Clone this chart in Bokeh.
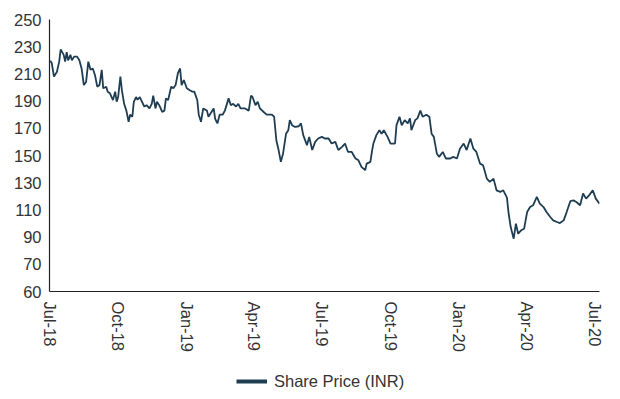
import pandas as pd
from bokeh.plotting import figure
from bokeh.layouts import column
from bokeh.models import (Range1d, FixedTicker, DatetimeTickFormatter, Legend,
                          LegendItem, ColumnDataSource)
from bokeh.embed import file_html
from bokeh.resources import INLINE

# ---------------- data ----------------
dates = [
    "2018-07-02", "2018-07-04", "2018-07-07", "2018-07-11", "2018-07-14", "2018-07-16",
    "2018-07-20", "2018-07-22", "2018-07-24", "2018-07-26", "2018-07-29", "2018-07-31",
    "2018-08-03", "2018-08-07", "2018-08-10", "2018-08-13", "2018-08-16", "2018-08-19",
    "2018-08-22", "2018-08-25", "2018-08-28", "2018-08-31", "2018-09-03", "2018-09-06",
    "2018-09-09", "2018-09-11", "2018-09-15", "2018-09-17", "2018-09-20", "2018-09-24",
    "2018-09-27", "2018-09-29", "2018-10-01", "2018-10-04", "2018-10-06", "2018-10-09",
    "2018-10-12", "2018-10-15", "2018-10-17", "2018-10-20", "2018-10-22", "2018-10-25",
    "2018-10-27", "2018-10-30", "2018-11-02", "2018-11-05", "2018-11-08", "2018-11-12",
    "2018-11-15", "2018-11-17", "2018-11-20", "2018-11-22", "2018-11-25", "2018-11-29",
    "2018-12-02", "2018-12-04", "2018-12-07", "2018-12-11", "2018-12-14", "2018-12-17",
    "2018-12-20", "2018-12-23", "2018-12-25", "2018-12-28", "2019-01-01", "2019-01-05",
    "2019-01-08", "2019-01-11", "2019-01-15", "2019-01-17", "2019-01-20", "2019-01-23",
    "2019-01-28", "2019-01-30", "2019-02-02", "2019-02-06", "2019-02-08", "2019-02-11",
    "2019-02-14", "2019-02-18", "2019-02-21", "2019-02-26", "2019-03-01", "2019-03-04",
    "2019-03-08", "2019-03-11", "2019-03-14", "2019-03-20", "2019-03-25", "2019-03-28",
    "2019-03-30", "2019-04-03", "2019-04-06", "2019-04-09", "2019-04-14", "2019-04-18",
    "2019-04-25", "2019-04-28", "2019-05-01", "2019-05-04", "2019-05-07", "2019-05-10",
    "2019-05-14", "2019-05-17", "2019-05-19", "2019-05-22", "2019-05-26", "2019-05-31",
    "2019-06-03", "2019-06-06", "2019-06-11", "2019-06-14", "2019-06-18", "2019-06-22",
    "2019-06-26", "2019-07-01", "2019-07-05", "2019-07-10", "2019-07-14", "2019-07-19",
    "2019-07-23", "2019-07-28", "2019-08-01", "2019-08-05", "2019-08-10", "2019-08-15",
    "2019-08-19", "2019-08-23", "2019-08-28", "2019-08-30", "2019-09-04", "2019-09-06",
    "2019-09-08", "2019-09-12", "2019-09-16", "2019-09-19", "2019-09-22", "2019-09-27",
    "2019-10-01", "2019-10-07", "2019-10-09", "2019-10-13", "2019-10-16", "2019-10-20",
    "2019-10-24", "2019-10-27", "2019-10-29", "2019-11-03", "2019-11-06", "2019-11-10",
    "2019-11-13", "2019-11-18", "2019-11-22", "2019-11-25", "2019-11-28", "2019-12-02",
    "2019-12-05", "2019-12-10", "2019-12-14", "2019-12-20", "2019-12-24", "2019-12-29",
    "2020-01-02", "2020-01-07", "2020-01-11", "2020-01-16", "2020-01-20", "2020-01-24",
    "2020-01-29", "2020-02-02", "2020-02-07", "2020-02-11", "2020-02-16", "2020-02-20",
    "2020-02-25", "2020-02-29", "2020-03-05", "2020-03-07", "2020-03-10", "2020-03-14",
    "2020-03-17", "2020-03-20", "2020-03-24", "2020-03-28", "2020-04-01", "2020-04-05",
    "2020-04-09", "2020-04-14", "2020-04-18", "2020-04-23", "2020-04-27", "2020-05-02",
    "2020-05-06", "2020-05-11", "2020-05-15", "2020-05-20", "2020-05-24", "2020-05-29",
    "2020-06-02", "2020-06-06", "2020-06-11", "2020-06-15", "2020-06-19", "2020-06-23",
    "2020-06-28", "2020-07-02", "2020-07-07",
]

prices = [
    219.7, 218.0, 208.0, 211.6, 219.0, 228.0,
    224.0, 219.0, 226.0, 220.0, 224.0, 220.0,
    222.7, 222.7, 220.0, 214.0, 201.8, 204.0,
    219.0, 213.0, 214.0, 209.0, 200.6, 201.8,
    213.0, 199.4, 200.6, 196.9, 195.7, 190.8,
    196.9, 189.6, 193.0, 208.0, 198.0, 188.0,
    183.0, 174.8, 180.0, 178.5, 189.5, 193.0,
    191.0, 193.0, 189.5, 186.0, 187.0, 184.6,
    188.0, 194.0, 184.6, 189.5, 187.0, 182.0,
    183.0, 192.0, 190.8, 200.6, 199.4, 201.8,
    210.4, 214.0, 201.8, 205.5, 199.4, 198.0,
    197.0, 197.0, 190.8, 180.0, 174.8, 184.6,
    183.0, 178.5, 181.0, 184.6, 177.0, 173.6,
    180.0, 180.0, 183.0, 192.0, 187.0, 188.0,
    186.0, 188.0, 184.6, 184.6, 183.0, 194.0,
    193.0, 187.0, 189.5, 184.6, 182.0, 180.0,
    180.0, 178.5, 161.0, 154.0, 145.3, 151.5,
    166.0, 168.6, 176.0, 172.3, 171.0, 171.5,
    173.6, 165.0, 157.6, 163.7, 154.0, 160.0,
    162.5, 163.7, 162.5, 162.5, 158.8, 160.0,
    154.0, 156.3, 158.8, 152.6, 152.6, 147.8,
    146.5, 141.6, 139.2, 144.0, 145.3, 152.6,
    158.8, 165.0, 168.6, 166.0, 168.6, 163.7,
    158.8, 158.8, 172.3, 178.5, 172.3, 176.0,
    173.6, 177.3, 168.6, 176.0, 177.3, 183.0,
    178.5, 180.0, 178.5, 166.0, 163.7, 151.5,
    149.0, 152.6, 147.8, 147.8, 149.0, 147.8,
    155.0, 158.8, 154.0, 162.5, 155.0, 152.6,
    144.0, 142.8, 133.0, 130.6, 133.0, 124.4,
    123.2, 124.4, 119.0, 108.4, 97.4, 88.8,
    99.9, 92.5, 95.0, 96.2, 108.4, 112.1,
    113.4, 119.5, 114.6, 112.1, 108.4, 104.8,
    102.3, 101.1, 100.3, 102.3, 108.4, 116.5,
    117.0, 115.8, 113.4, 122.0, 118.3, 120.7,
    124.4, 118.3, 114.6,
]

series_name = "Share Price (INR)"
x_tick_dates = ["2018-07-01", "2018-10-01", "2019-01-01", "2019-04-01", "2019-07-01",
                "2019-10-01", "2020-01-01", "2020-04-01", "2020-07-01"]
x_start, x_end = "2018-07-01", "2020-07-07"
y_ticks = [50, 70, 90, 110, 130, 150, 170, 190, 210, 230, 250]
y_tick_labels = ["60", "70", "90", "110", "130", "150", "170", "190", "210", "230", "250"]

# ---------------- styling ----------------
LINE = "#1e3d52"
TEXT = "#333333"
FONT = "Liberation Sans"
FS = "16.5px"

src = ColumnDataSource(dict(date=pd.to_datetime(dates), price=prices))
xr = Range1d(pd.Timestamp(x_start), pd.Timestamp(x_end))
yr = Range1d(y_ticks[0], y_ticks[-1])

# ---------------- main chart ----------------
p = figure(width=612, height=355, x_axis_type="datetime", x_range=xr, y_range=yr,
           output_backend="svg", toolbar_location=None,
           min_border_left=49, min_border_top=19, min_border_right=13,
           min_border_bottom=64)

p.line("date", "price", source=src, line_color=LINE, line_width=1.8)

p.xgrid.grid_line_color = None
p.ygrid.grid_line_color = None
p.outline_line_color = None
p.background_fill_color = "white"
p.border_fill_color = "white"

for ax in (p.xaxis[0], p.yaxis[0]):
    ax.axis_line_color = "#222222"
    ax.axis_line_width = 1.2
    ax.major_tick_line_color = None
    ax.minor_tick_line_color = None
    ax.major_tick_out = 0
    ax.major_tick_in = 0
    ax.major_label_text_font = FONT
    ax.major_label_text_font_size = FS
    ax.major_label_text_color = TEXT

x_tick_ms = [pd.Timestamp(d).timestamp() * 1000 for d in x_tick_dates]
p.xaxis.ticker = FixedTicker(ticks=x_tick_ms)
fmt = "%b-%y"
p.xaxis.formatter = DatetimeTickFormatter(
    microseconds=fmt, milliseconds=fmt, seconds=fmt, minsec=fmt, minutes=fmt,
    hourmin=fmt, hours=fmt, days=fmt, months=fmt, years=fmt)
p.xaxis.major_label_orientation = "vertical"
p.xaxis.major_label_standoff = 10

p.yaxis.ticker = FixedTicker(ticks=y_ticks)
p.yaxis.major_label_overrides = {t: l for t, l in zip(y_ticks, y_tick_labels)}
p.yaxis.major_label_standoff = 8

# ---------------- legend strip ----------------
leg = figure(width=612, height=44, x_range=xr, y_range=yr,
             x_axis_location=None, y_axis_location=None,
             output_backend="svg", toolbar_location=None, min_border=0)
leg.xgrid.grid_line_color = None
leg.ygrid.grid_line_color = None
leg.outline_line_color = None
proxy = leg.line("date", "price", source=src, line_color=LINE, line_width=4,
                 visible=False)

legend = Legend(items=[LegendItem(label=series_name, renderers=[proxy])],
                location=(187, 8), orientation="horizontal",
                border_line_color=None, background_fill_alpha=0,
                inactive_fill_alpha=0,
                glyph_width=31, glyph_height=20, label_height=20,
                label_standoff=7, padding=0, margin=0, spacing=0,
                label_text_font=FONT, label_text_font_size=FS,
                label_text_color=TEXT)
leg.add_layout(legend)

layout = column(p, leg, spacing=0)
open("out.html", "w").write(file_html(layout, INLINE))
